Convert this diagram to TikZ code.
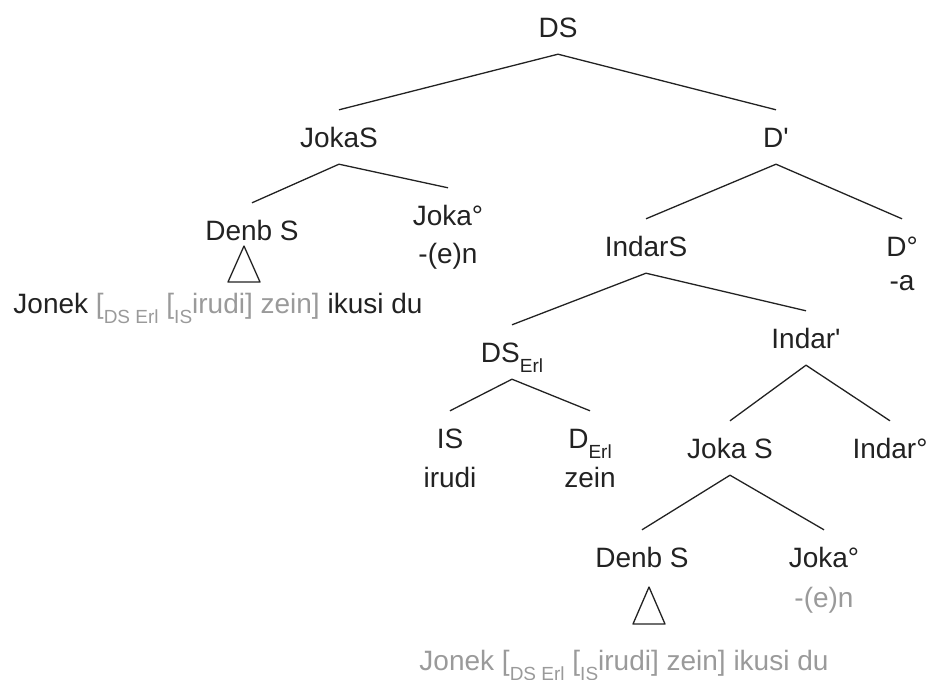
\documentclass[tikz,border=0pt]{standalone}
\usepackage{fontspec}
\setmainfont{Liberation Sans}
\usetikzlibrary{positioning}
\definecolor{faded}{HTML}{9A9A9A}
\definecolor{ink}{HTML}{222222}
% lowered small label for categories
\newcommand{\lowtag}[1]{\raisebox{-10pt}{\fontsize{19}{19}\selectfont #1}}

\begin{document}
\begin{tikzpicture}[x=1pt, y=-1pt, node distance=38pt,
    cat/.style={font=\fontsize{28}{34}\selectfont, text=ink, inner xsep=0pt, inner ysep=17pt, text height=20pt, text depth=0pt},
    lex/.style={cat, inner ysep=0pt},
    branch/.style={draw=ink, line width=1.3pt, line join=round}]
    \useasboundingbox (0,0) rectangle (929,680);

    \node[cat] (ds) at (558,27) {DS};
    \node[cat] (jokas) at (339,137) {JokaS};
    \node[cat] (dbar) at (776,137) {D\textquotesingle};

    \node[cat] (denb1) at (252,230) {Denb S};
    \node[cat] (joka1) at (448,215) {Joka°};
    \node[lex] (en1) [below of=joka1] {-(e)n};
    \node[lex] (jonek1) at (218,303) {Jonek \textcolor{faded}{[\lowtag{DS Erl} [\lowtag{IS}irudi] zein]} ikusi du};

    \node[cat] (indars) at (646,246) {IndarS};
    \node[cat] (dnull) at (902,246) {D°};
    \node[lex] (a) [below of=dnull, node distance=34pt] {-a};

    \node[cat] (dserl) at (512,352) {DS\lowtag{Erl}};
    \node[cat] (indarbar) at (806,338) {Indar\textquotesingle};
    \node[cat] (is) at (450,438) {IS};
    \node[lex] (irudi) [below of=is, node distance=39pt] {irudi};
    \node[cat] (derl) at (590,438) {D\lowtag{Erl}};
    \node[lex] (zein) [below of=derl, node distance=39pt] {zein};

    \node[cat] (jokas2) at (730,448) {Joka S};
    \node[cat] (indarnull) at (890,448) {Indar°};
    \node[cat] (denb2) at (642,557) {Denb S};
    \node[cat] (joka2) at (824,557) {Joka°};
    \node[lex, text=faded] (en2) [below of=joka2, node distance=40pt] {-(e)n};
    \node[lex, text=faded] (jonek2) at (624,660) {Jonek [\lowtag{DS Erl} [\lowtag{IS}irudi] zein] ikusi du};

    \draw[branch] (jokas.north) -- (ds.south) -- (dbar.north);
    \draw[branch] (denb1.north) -- (jokas.south) -- (joka1.north);
    \draw[branch] (indars.north) -- (dbar.south) -- (dnull.north);
    \draw[branch] (dserl.north) -- (indars.south) -- (indarbar.north);
    \draw[branch] (is.north) -- (dserl.south) -- (derl.north);
    \draw[branch] (jokas2.north) -- (indarbar.south) -- (indarnull.north);
    \draw[branch] (denb2.north) -- (jokas2.south) -- (joka2.north);

    % roofs over the unanalysed strings
    \coordinate (roof1) at (244,246);
    \coordinate (roof2) at (649,587);
    \draw[branch] (roof1) -- ++(-16,36) -- ++(32,0) -- cycle;
    \draw[branch] (roof2) -- ++(-16,37) -- ++(32,0) -- cycle;
\end{tikzpicture}
\end{document}
